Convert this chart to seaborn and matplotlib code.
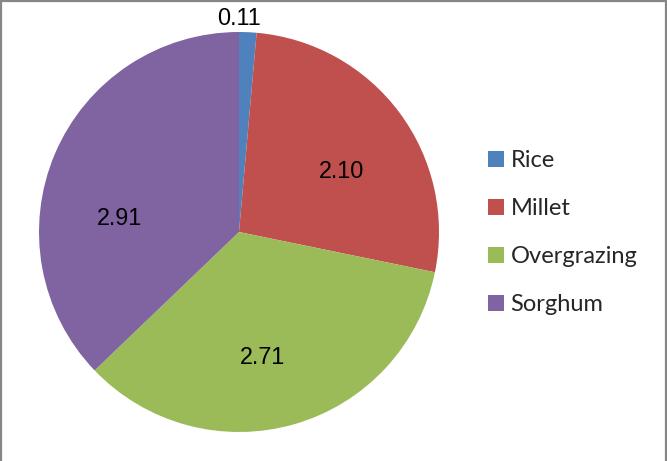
import matplotlib
matplotlib.use("Agg")
import matplotlib.pyplot as plt
from matplotlib.lines import Line2D
import numpy as np
import seaborn as sns

categories = ["Rice", "Millet", "Overgrazing", "Sorghum"]
values = [0.11, 2.10, 2.71, 2.91]
colors = ["#4F81BD", "#C0504D", "#9BBB59", "#8064A2"]
# label anchor points in pie data units (radius = 1)
label_xy = [(0.0, 1.07), (0.515, 0.305), (0.115, -0.625), (-0.60, 0.07)]

sns.set_theme(style="white")
plt.rcParams["font.family"] = ["Liberation Sans", "DejaVu Sans"]

fig = plt.figure(figsize=(6.67, 4.61), dpi=100)
fig.patch.set_facecolor("white")

W, H = 667, 461
cx, cy, r = 239, 232, 200
ax = fig.add_axes([(cx - r) / W, (H - cy - r) / H, 2 * r / W, 2 * r / H])

wedges, _ = ax.pie(values, colors=colors, startangle=90, counterclock=False,
                   radius=1, wedgeprops=dict(linewidth=0))
ax.set_xlim(-1, 1)
ax.set_ylim(-1, 1)
ax.set_aspect("equal")
ax.axis("off")

for v, (x, y) in zip(values, label_xy):
    ax.text(x, y, f"{v:.2f}", ha="center", va="center", fontsize=16.8,
            color="black", clip_on=False)

handles = [Line2D([], [], linestyle="none", marker="s", markersize=11.3,
                  markerfacecolor=c, markeredgewidth=0) for c in colors]
leg = fig.legend(handles, categories, loc="upper left",
                 bbox_to_anchor=(469 / W, 1 - 131 / H), frameon=False,
                 prop={"family": "Lato", "size": 17},
                 handlelength=0.68, handletextpad=0.28,
                 labelspacing=1.15, borderpad=0.3)

# chart area outline
gray = "#868686"
fig.add_artist(Line2D([0.5 / W, 0.5 / W], [0, 1 - 1.5 / H], color=gray, lw=1.6,
                      transform=fig.transFigure))
fig.add_artist(Line2D([0.5 / W, 1 - 1.5 / W], [1 - 1.5 / H, 1 - 1.5 / H], color=gray,
                      lw=1.6, transform=fig.transFigure))
fig.add_artist(Line2D([1 - 1.5 / W, 1 - 1.5 / W], [0, 1 - 1.5 / H], color=gray, lw=1.6,
                      transform=fig.transFigure))

fig.savefig("out.png", dpi=100, facecolor="white")
